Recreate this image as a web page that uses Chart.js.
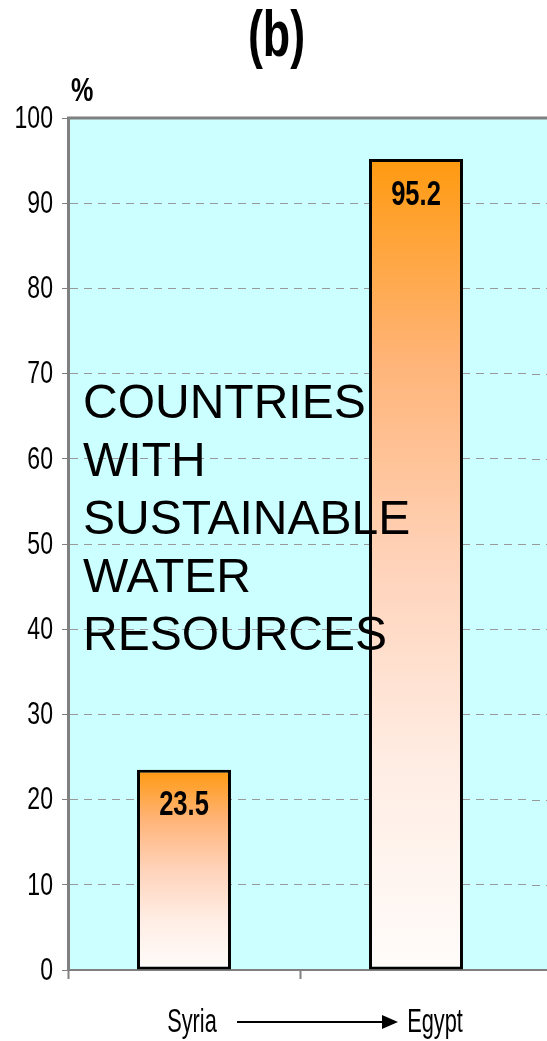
<!DOCTYPE html>
<html>
<head>
<meta charset="utf-8">
<title>Sustainable water resources</title>
<script src="https://cdn.jsdelivr.net/npm/chart.js@4/dist/chart.umd.min.js"></script>
<style>
  html, body { margin: 0; padding: 0; background: #fff; }
  #wrap { width: 547px; height: 1041px; }
</style>
</head>
<body>
<div id="wrap"><canvas id="water-chart" width="547" height="1041"></canvas></div>
<script>
// data
const countries = ['Syria', 'Egypt'];
const shares = [23.5, 95.2];
const yMin = 0;
const yMax = 100;
const yStep = 10;
const titleText = '(b)';
const unitText = '%';
const noteLines = ['COUNTRIES', 'WITH', 'SUSTAINABLE', 'WATER', 'RESOURCES'];

const sans = "'Liberation Sans', Arial, sans-serif";
const axisGray = '#808080';
const gridGray = '#999999';

// orange fading to white, from the top of each bar to its base
function barGradient(c) {
  const chart = c.chart;
  if (!chart.chartArea || c.raw == null) return '#FF9A10';
  const y = chart.scales.y;
  const top = y.getPixelForValue(c.raw);
  const base = y.getPixelForValue(0);
  const g = chart.ctx.createLinearGradient(0, top, 0, base);
  g.addColorStop(0, '#FF9A10');
  g.addColorStop(0.25, '#FFB478');
  g.addColorStop(0.5, '#FFD3BA');
  g.addColorStop(0.75, '#FFEDE4');
  g.addColorStop(1, '#FFFCFA');
  return g;
}

// squeezed text, for the condensed labels
function narrowText(ctx, text, x, y, font, squeeze, align, baseline) {
  ctx.save();
  ctx.font = font;
  ctx.textAlign = align || 'center';
  ctx.textBaseline = baseline || 'alphabetic';
  ctx.translate(x, y);
  ctx.scale(squeeze, 1);
  ctx.fillText(text, 0, 0);
  ctx.restore();
}

const panelPlugin = {
  id: 'panel',
  beforeDraw(chart) {
    const { ctx, chartArea: a, width } = chart;
    ctx.save();
    ctx.fillStyle = '#CCFFFF';
    ctx.fillRect(a.left, a.top, width - a.left, a.bottom - a.top);
    ctx.restore();
  },
  beforeDatasetsDraw(chart) {
    // the plot panel runs on past the right edge of the chart area
    const { ctx, chartArea: a, width, scales: { y } } = chart;
    ctx.save();
    ctx.strokeStyle = gridGray;
    ctx.lineWidth = 1;
    ctx.setLineDash([8, 6]);
    y.ticks.forEach(t => {
      if (t.value <= yMin || t.value >= yMax) return;
      const py = Math.round(y.getPixelForValue(t.value)) + 0.5;
      ctx.beginPath();
      ctx.moveTo(a.right, py);
      ctx.lineTo(width, py);
      ctx.stroke();
    });
    ctx.setLineDash([]);
    ctx.strokeStyle = axisGray;
    ctx.lineWidth = 3;
    ctx.beginPath();
    ctx.moveTo(a.left - 1, a.top);
    ctx.lineTo(width, a.top);
    ctx.stroke();
    ctx.lineWidth = 2;
    ctx.beginPath();
    ctx.moveTo(a.right, a.bottom);
    ctx.lineTo(width, a.bottom);
    ctx.stroke();
    ctx.restore();

    // y tick labels
    ctx.fillStyle = '#000';
    y.ticks.forEach(t => {
      narrowText(ctx, String(t.value), a.left - 15, y.getPixelForValue(t.value) + 1,
        '32px ' + sans, 0.72, 'right', 'middle');
    });
  },
  afterDatasetsDraw(chart) {
    const { ctx } = chart;
    const meta = chart.getDatasetMeta(0);
    ctx.fillStyle = '#000';
    meta.data.forEach((bar, i) => {
      narrowText(ctx, shares[i].toFixed(1), bar.x, bar.y + 36,
        'bold 35px ' + sans, 0.73, 'center', 'middle');
    });
  },
  afterDraw(chart) {
    const { ctx, chartArea: a, width, scales: { x } } = chart;
    ctx.save();
    ctx.fillStyle = '#000';

    narrowText(ctx, titleText, width / 2 + 3, 56, 'bold 64px ' + sans, 0.7, 'center');
    narrowText(ctx, unitText, a.left + 3, a.top - 17, 'bold 34px ' + sans, 0.74, 'left');

    ctx.textAlign = 'left';
    ctx.textBaseline = 'alphabetic';
    ctx.font = '48px ' + sans;
    noteLines.forEach((line, i) => {
      ctx.fillText(line, a.left + 15, a.top + 300 + i * 58);
    });

    // country names joined by an arrow
    const sx = x.getPixelForValue(0) + 8;
    const ex = x.getPixelForValue(1) + 19;
    const base = a.bottom + 62;
    narrowText(ctx, countries[0], sx, base, '33px ' + sans, 0.66, 'center');
    narrowText(ctx, countries[1], ex, base, '33px ' + sans, 0.66, 'center');

    const ay = base - 10;
    const x0 = sx + 45;
    const x1 = ex - 37;
    ctx.strokeStyle = '#000';
    ctx.lineWidth = 2;
    ctx.beginPath();
    ctx.moveTo(x0, ay);
    ctx.lineTo(x1 - 12, ay);
    ctx.stroke();
    ctx.beginPath();
    ctx.moveTo(x1, ay);
    ctx.lineTo(x1 - 16, ay - 7);
    ctx.lineTo(x1 - 16, ay + 7);
    ctx.closePath();
    ctx.fill();
    ctx.restore();
  }
};

new Chart(document.getElementById('water-chart'), {
  type: 'bar',
  data: {
    labels: countries,
    datasets: [{
      data: shares,
      backgroundColor: barGradient,
      borderColor: '#000',
      borderWidth: 3,
      borderSkipped: false,
      barPercentage: 0.405,
      categoryPercentage: 1
    }]
  },
  options: {
    responsive: false,
    animation: false,
    layout: { padding: { top: 118, right: 15, left: 0, bottom: 0 } },
    plugins: {
      legend: { display: false },
      tooltip: { enabled: false },
      title: { display: false }
    },
    scales: {
      x: {
        afterFit: s => { s.height = 71; },
        ticks: { display: false },
        grid: {
          offset: true,
          drawOnChartArea: false,
          tickLength: 9,
          tickWidth: 2,
          tickColor: c => c.type === 'tick' ? axisGray : 'transparent'
        },
        border: { display: true, color: axisGray, width: 2 }
      },
      y: {
        min: yMin,
        max: yMax,
        afterFit: s => { s.width = 68; },
        ticks: { stepSize: yStep, display: false },
        grid: {
          color: c => (c.tick && (c.tick.value === yMin || c.tick.value === yMax)) ? 'transparent' : gridGray,
          tickBorderDash: [],
          tickColor: axisGray,
          tickLength: 6,
          lineWidth: 1
        },
        // in v4 the grid lines take their dash from the border options
        border: { display: true, color: axisGray, width: 3, dash: [8, 6] }
      }
    }
  },
  plugins: [panelPlugin]
});
</script>
</body>
</html>
